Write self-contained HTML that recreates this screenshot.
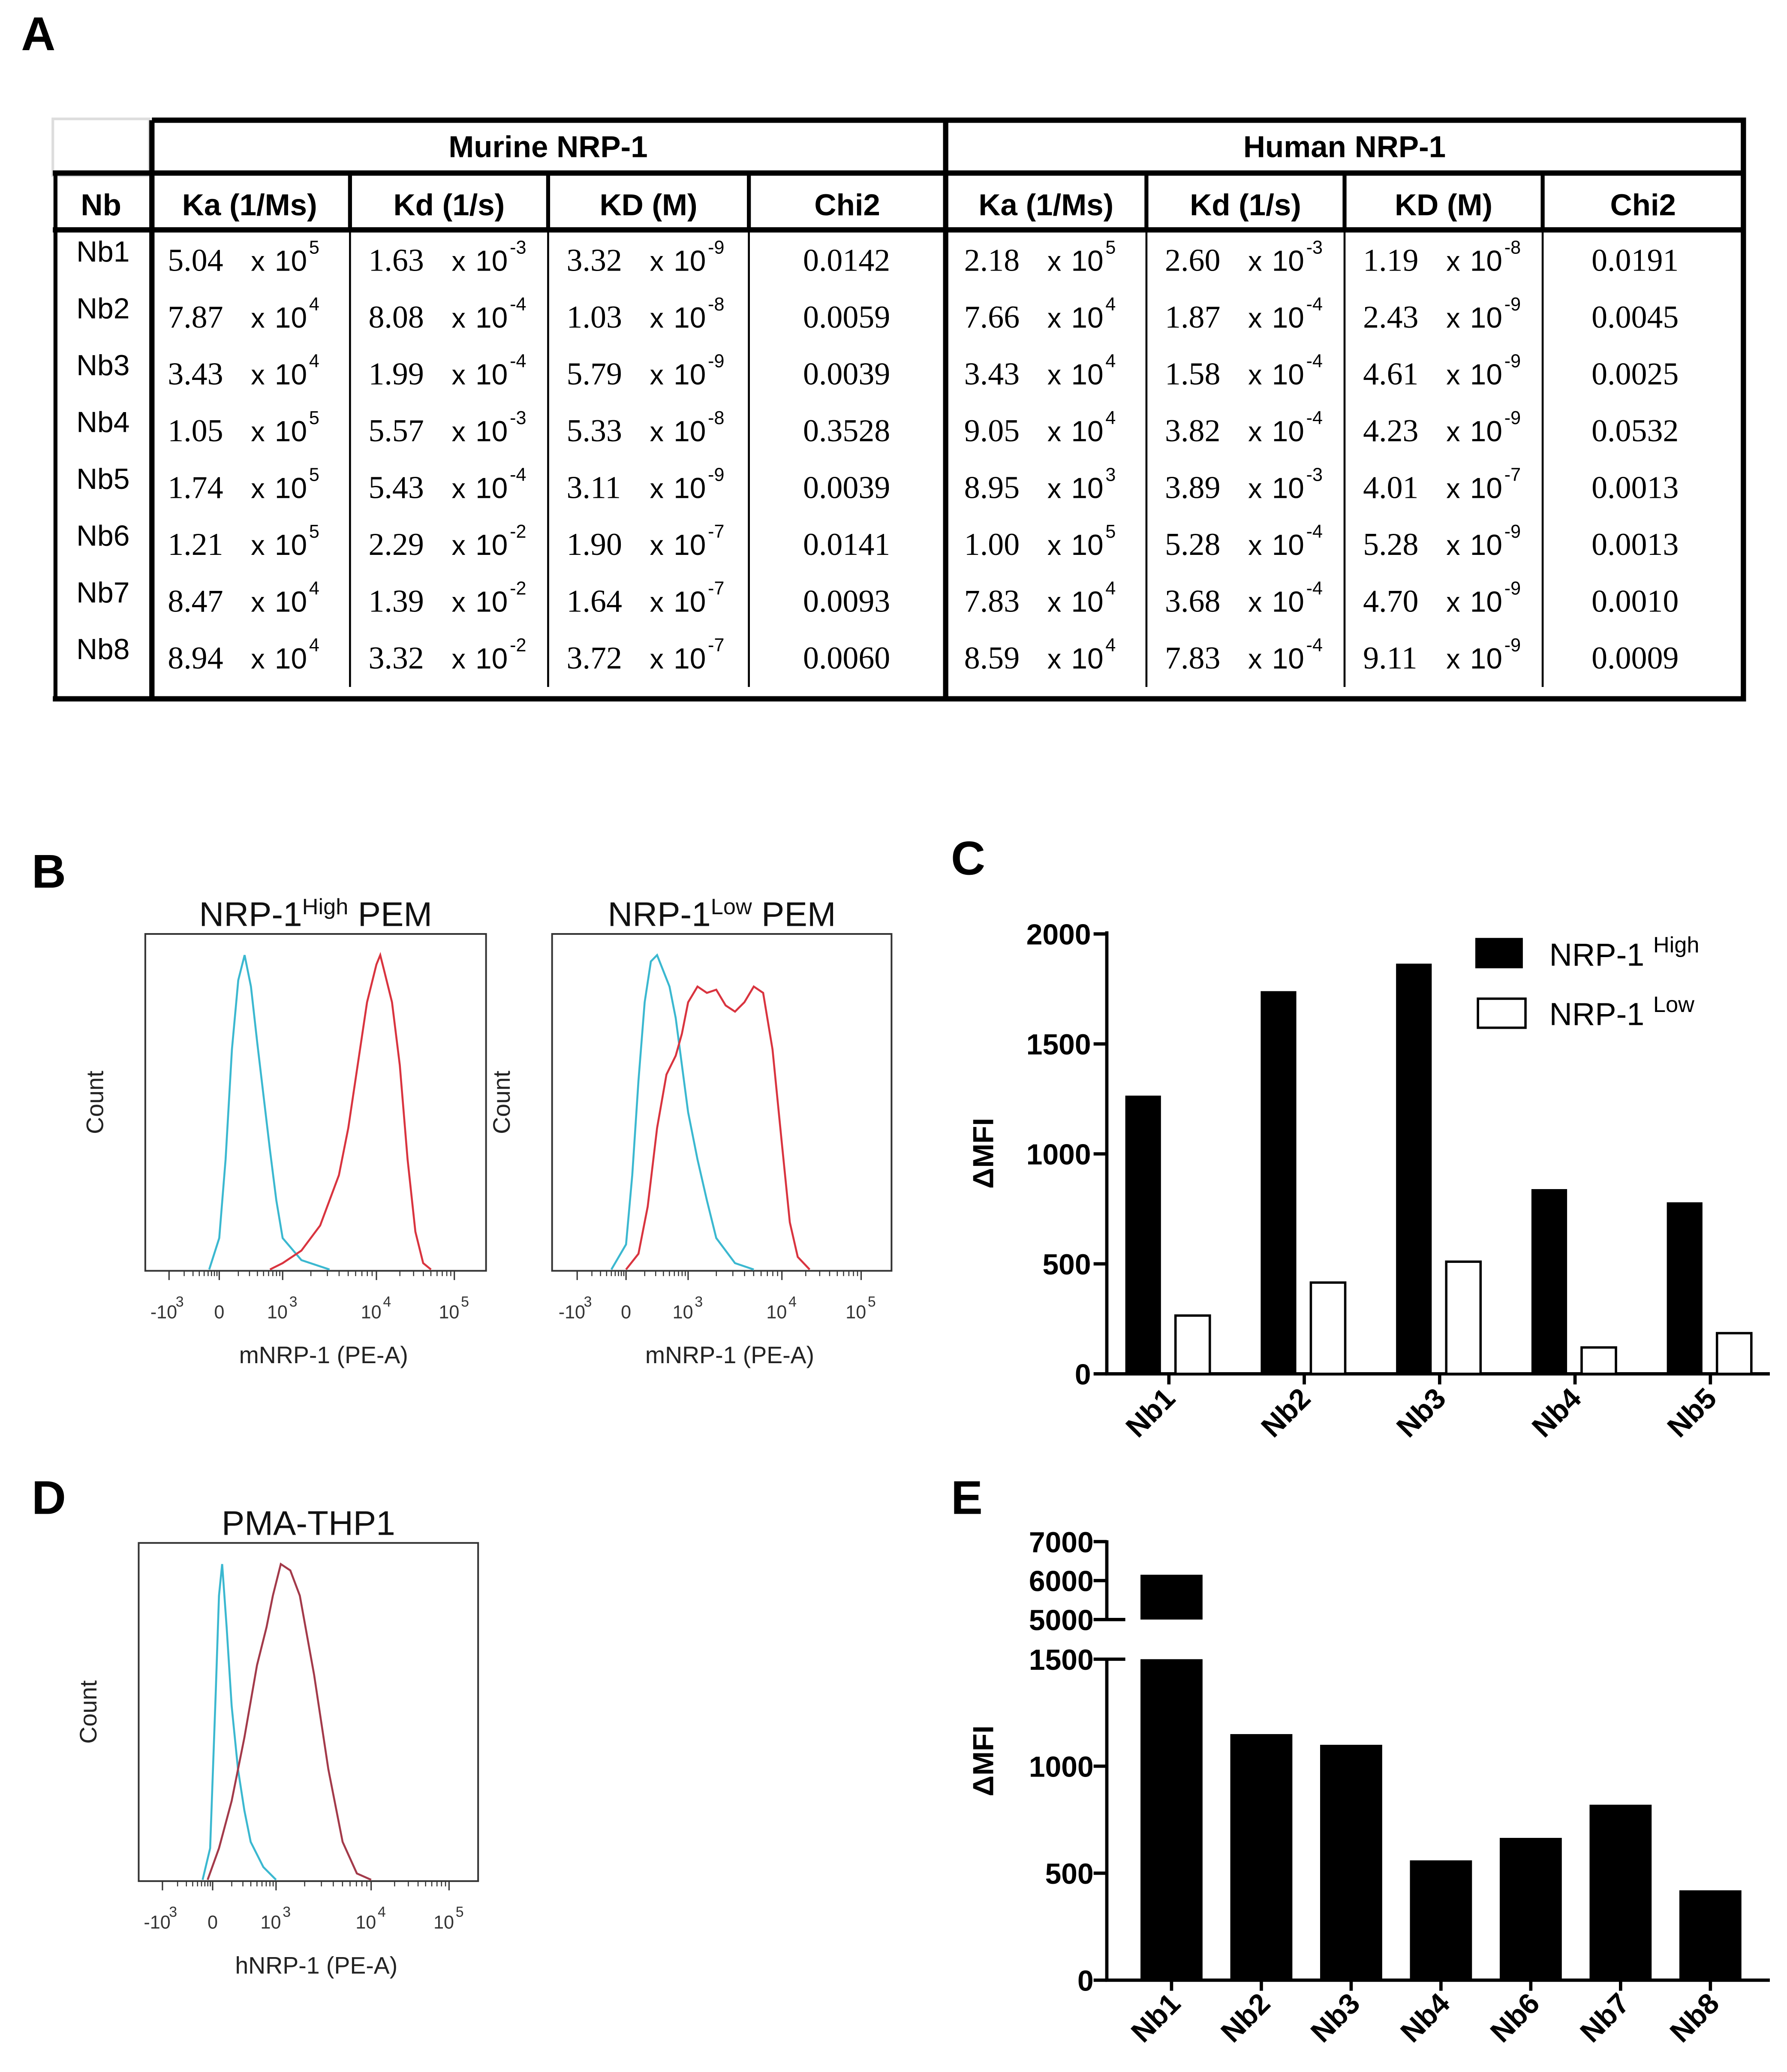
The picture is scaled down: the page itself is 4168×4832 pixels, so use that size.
<!DOCTYPE html>
<html><head><meta charset="utf-8">
<style>
html,body{margin:0;padding:0;background:#fff;}
svg{display:block;}
.sans{font-family:"Liberation Sans",sans-serif;}
.serif{font-family:"Liberation Serif",serif;}
</style></head>
<body>
<svg id="fig" xmlns="http://www.w3.org/2000/svg" width="4168" height="4832" viewBox="0 0 1353 1568.5" preserveAspectRatio="none">
<rect x="0" y="0" width="1360" height="1577" fill="#fff"/>
<g id="tbl"></g>
<g id="pb"></g>
<g id="pc"></g>
<g id="pd"></g>
<g id="pe"></g>
</svg>
<script>
// ---------- DATA ----------
const nbRows = ["Nb1","Nb2","Nb3","Nb4","Nb5","Nb6","Nb7","Nb8"];
const murKa = ["5.04|5","7.87|4","3.43|4","1.05|5","1.74|5","1.21|5","8.47|4","8.94|4"];
const murKd = ["1.63|-3","8.08|-4","1.99|-4","5.57|-3","5.43|-4","2.29|-2","1.39|-2","3.32|-2"];
const murKD = ["3.32|-9","1.03|-8","5.79|-9","5.33|-8","3.11|-9","1.90|-7","1.64|-7","3.72|-7"];
const murChi = ["0.0142","0.0059","0.0039","0.3528","0.0039","0.0141","0.0093","0.0060"];
const humKa = ["2.18|5","7.66|4","3.43|4","9.05|4","8.95|3","1.00|5","7.83|4","8.59|4"];
const humKd = ["2.60|-3","1.87|-4","1.58|-4","3.82|-4","3.89|-3","5.28|-4","3.68|-4","7.83|-4"];
const humKD = ["1.19|-8","2.43|-9","4.61|-9","4.23|-9","4.01|-7","5.28|-9","4.70|-9","9.11|-9"];
const humChi = ["0.0191","0.0045","0.0025","0.0532","0.0013","0.0013","0.0010","0.0009"];

const h1BlueT = [-0.2,0,0.1,0.2,0.3,0.4,0.5,0.6,0.7,0.8,0.9,1.0,1.2,1.5];
const h1BlueC = [0,10,35,70,92,100,90,72,55,38,22,10,3,0];
const h1RedT = [0.8,1.0,1.2,1.4,1.6,1.7,1.8,1.9,2.0,2.05,2.1,2.2,2.3,2.4,2.5,2.6,2.7];
const h1RedC = [0,2,6,14,30,45,65,85,97,100,95,85,65,35,12,2,0];
const h2BlueT = [-0.3,0,0.1,0.2,0.3,0.4,0.5,0.6,0.7,0.8,0.9,1.0,1.1,1.2,1.3,1.5,1.7];
const h2BlueC = [0,8,30,60,85,98,100,95,90,80,65,50,35,22,10,2,0];
const h2RedT = [0,0.2,0.35,0.5,0.65,0.8,0.9,1.0,1.1,1.2,1.3,1.4,1.5,1.6,1.7,1.8,1.9,2.0,2.1,2.2,2.35];
const h2RedC = [0,5,20,45,62,68,75,85,90,88,89,84,82,85,90,88,70,40,15,4,0];
const h3BlueT = [-0.2,-0.05,0.05,0.1,0.15,0.22,0.3,0.4,0.5,0.6,0.8,1.0];
const h3BlueC = [0,10,60,90,100,80,55,35,22,12,4,0];
const h3RedT = [-0.1,0.1,0.3,0.5,0.7,0.85,0.95,1.05,1.15,1.25,1.4,1.55,1.7,1.85,2.0];
const h3RedC = [0,10,25,45,68,80,90,100,98,90,65,35,12,2,0];

const cCats = ["Nb1","Nb2","Nb3","Nb4","Nb5"];
const cHigh = [1265,1740,1865,840,780];
const cLow = [265,415,510,120,185];
const cTicks = [0,500,1000,1500,2000];

const eCats = ["Nb1","Nb2","Nb3","Nb4","Nb6","Nb7","Nb8"];
const eVals = [6150,1150,1100,560,665,820,420];
const eTicksLow = [0,500,1000,1500];
const eTicksHigh = [5000,6000,7000];

// ---------- HELPERS ----------
const NS="http://www.w3.org/2000/svg";
function mk(parent,tag,attrs,text){const e=document.createElementNS(NS,tag);for(const k in attrs)e.setAttribute(k,attrs[k]);if(text!==undefined)e.textContent=text;parent.appendChild(e);return e;}

const fig=document.getElementById('fig');
[["A",16,38],["B",24,672],["C",720,662],["D",24,1146],["E",720,1146]].forEach(l=>{
  const t=mk(fig,'text',{x:l[1],y:l[2],'font-size':36,'font-weight':'bold',class:'sans'},l[0]);
  
  
});

// ---------- TABLE ----------
const tbl=document.getElementById('tbl');
const colX=[40,113,265,415,567,716,868,1018,1168,1320];
mk(tbl,'rect',{x:40,y:90,width:73,height:43,fill:'none',stroke:'#ddd','stroke-width':2});
function ln(g,x1,y1,x2,y2,w){mk(g,'line',{x1:x1,y1:y1,x2:x2,y2:y2,stroke:'#000','stroke-width':w});}
ln(tbl,115,91,1322,91,4);
ln(tbl,40,131,1322,131,4);
ln(tbl,40,174,1322,174,4);
ln(tbl,40,529,1322,529,4);
ln(tbl,42,131,42,529,3);
ln(tbl,115,91,115,529,4);
ln(tbl,716,91,716,529,4);
ln(tbl,1320,91,1320,529,4);
[265,415,567,868,1018,1168].forEach(x=>ln(tbl,x,131,x,174,3));
[265,415,567,868,1018,1168].forEach(x=>ln(tbl,x,174,x,520,1.5));
let t;
t=mk(tbl,'text',{x:415,y:119,'font-size':23,'font-weight':'bold','text-anchor':'middle',class:'sans'},'Murine NRP-1');


t=mk(tbl,'text',{x:1018,y:119,'font-size':23,'font-weight':'bold','text-anchor':'middle',class:'sans'},'Human NRP-1');


const heads=["Nb","Ka (1/Ms)","Kd (1/s)","KD (M)","Chi2","Ka (1/Ms)","Kd (1/s)","KD (M)","Chi2"];
heads.forEach((h,i)=>{
  const c=mk(tbl,'text',{x:(colX[i]+colX[i+1])/2,y:163,'font-size':23,'font-weight':'bold','text-anchor':'middle',class:'sans'},h);
  
  
});
const sciCols=[[murKa,113],[murKd,265],[murKD,415],[humKa,716],[humKd,868],[humKD,1018]];
nbRows.forEach((nb,i)=>{
  const y=205+43*i;
  const r=mk(tbl,'text',{x:78,y:y-7,'font-size':22,'text-anchor':'middle',class:'sans'},nb);
  
  
  sciCols.forEach(([arr,x0])=>{
    const [m,e]=arr[i].split('|');
    const a=mk(tbl,'text',{x:x0+14,y:y,'font-size':24,class:'serif'},m);
    
    
    mk(tbl,'text',{x:x0+77,y:y,'font-size':21,class:'sans'},'x');
    mk(tbl,'text',{x:x0+95,y:y,'font-size':22,class:'sans'},'10');
    mk(tbl,'text',{x:x0+121,y:y-13,'font-size':14,class:'sans'},e);
  });
  [[murChi,641],[humChi,1238]].forEach(([arr,cx])=>{
    const a=mk(tbl,'text',{x:cx,y:y,'font-size':24,'text-anchor':'middle',class:'serif'},arr[i]);
    
    
  });
});

// ---------- HISTOGRAMS ----------
function hist(g,box,tickPx,title,titleSup,titleRest,xlab,series){
  const [x0,y0,x1,y1]=box;
  const fr=mk(g,'rect',{x:x0,y:y0,width:x1-x0,height:y1-y0,fill:'none',stroke:'#333','stroke-width':1.3});
  
  
  const tx=t=>{const i=Math.max(0,Math.min(3,Math.floor(t+1)));const f=t+1-i;return tickPx[i]+f*(tickPx[i+1]-tickPx[i]);};
  const ty=c=>y1-1-c/100*(y1-y0-17);
  series.forEach(([T,C,col,name])=>{
    let d='';T.forEach((tv,k)=>{d+=(k?'L':'M')+tx(tv).toFixed(1)+','+ty(C[k]).toFixed(1);});
    const p=mk(g,'path',{d:d,fill:'none',stroke:col,'stroke-width':1.5});
    
    
  });
  for(let i=0;i<4;i++){for(let k=1;k<10;k++){const x=tickPx[i]+(tickPx[i+1]-tickPx[i])*Math.log10(k+1);mk(g,'line',{x1:x,y1:y1,x2:x,y2:y1+4,stroke:'#333','stroke-width':0.8});}}
  tickPx.forEach(x=>mk(g,'line',{x1:x,y1:y1,x2:x,y2:y1+7,stroke:'#333','stroke-width':1}));
  const labs=[["-10","3"],["0",""],["10","3"],["10","4"],["10","5"]];
  labs.forEach((l,i)=>{
    const a=mk(g,'text',{x:tickPx[i]-(l[1]?4:0),y:y1+36,'font-size':14,fill:'#333','text-anchor':'middle',class:'sans'},l[0]);
    
    
    if(l[1])mk(g,'text',{x:tickPx[i]+5,y:y1+27,'font-size':11,fill:'#333',class:'sans'},l[1]);
  });
  const xl=mk(g,'text',{x:(x0+x1)/2+6,y:y1+70,'font-size':18,fill:'#222','text-anchor':'middle',class:'sans'},xlab);
  
  
  const cx=x0-32,cy=(y0+y1)/2;
  const yl=mk(g,'text',{x:cx,y:cy,'font-size':18,fill:'#222','text-anchor':'middle',transform:`rotate(-90 ${cx} ${cy})`,class:'sans'},'Count');
  
  
  const tt=mk(g,'text',{x:(x0+x1)/2,y:y0-6,'font-size':26,fill:'#111','text-anchor':'middle',class:'sans'});
  
  
  mk(tt,'tspan',{},title);
  if(titleSup){mk(tt,'tspan',{'font-size':17,dy:-9},titleSup);mk(tt,'tspan',{dy:9},titleRest);}
}
const pb=document.getElementById('pb');
hist(pb,[110,707,368,962],[128,166,214,285,344],'NRP-1','High',' PEM','mNRP-1 (PE-A)',
  [[h1BlueT,h1BlueC,'#3bb8d0','hist-isotype'],[h1RedT,h1RedC,'#d9343f','hist-nrp1-stain']]);
hist(pb,[418,707,675,962],[437,474,521,592,652],'NRP-1','Low',' PEM','mNRP-1 (PE-A)',
  [[h2BlueT,h2BlueC,'#3bb8d0','hist-isotype'],[h2RedT,h2RedC,'#d9343f','hist-nrp1-stain']]);
const pd=document.getElementById('pd');
hist(pd,[105,1168,362,1424],[123,161,209,281,340],'PMA-THP1','','','hNRP-1 (PE-A)',
  [[h3BlueT,h3BlueC,'#3bb8d0','hist-isotype'],[h3RedT,h3RedC,'#a33a4a','hist-nrp1-stain']]);

// ---------- PANEL C ----------
const pc=document.getElementById('pc');
const cY=v=>1040-v/2000*333;
const cGroupX=i=>885+i*102.5;
mk(pc,'line',{x1:838,y1:705,x2:838,y2:1041,stroke:'#000','stroke-width':2.5});
mk(pc,'line',{x1:837,y1:1040,x2:1340,y2:1040,stroke:'#000','stroke-width':2.5});
cTicks.forEach(v=>{
  mk(pc,'line',{x1:828,y1:cY(v),x2:838,y2:cY(v),stroke:'#000','stroke-width':2.5});
  const a=mk(pc,'text',{x:826,y:cY(v)+8,'font-size':22,'font-weight':'bold','text-anchor':'end',class:'sans'},String(v));
  
  
});
cCats.forEach((c,i)=>{
  const gx=cGroupX(i);
  const b=mk(pc,'rect',{x:gx-33,y:cY(cHigh[i]),width:27,height:1040-cY(cHigh[i]),fill:'#000'});
  
  
  const w=mk(pc,'rect',{x:gx+5,y:cY(cLow[i]),width:26,height:1040-cY(cLow[i]),fill:'#fff',stroke:'#000','stroke-width':1.8});
  
  
  mk(pc,'line',{x1:gx,y1:1040,x2:gx,y2:1048,stroke:'#000','stroke-width':2.5});
  const l=mk(pc,'text',{x:gx+6,y:1060,'font-size':22,'font-weight':'bold','text-anchor':'end',transform:`rotate(-45 ${gx+6} 1060)`,class:'sans'},c);
  
  
});
t=mk(pc,'text',{x:752,y:873,'font-size':22,'font-weight':'bold','text-anchor':'middle',transform:'rotate(-90 752 873)',class:'sans'},'ΔMFI');


const lg=mk(pc,'g',{});


mk(lg,'rect',{x:1117,y:710,width:36,height:23,fill:'#000'});
let lt=mk(lg,'text',{x:1173,y:731,'font-size':24,class:'sans'});
mk(lt,'tspan',{},'NRP-1 ');mk(lt,'tspan',{'font-size':17,dy:-10},'High');
mk(lg,'rect',{x:1119,y:756,width:36,height:22,fill:'#fff',stroke:'#000','stroke-width':1.8});
lt=mk(lg,'text',{x:1173,y:776,'font-size':24,class:'sans'});
mk(lt,'tspan',{},'NRP-1 ');mk(lt,'tspan',{'font-size':17,dy:-10},'Low');

// ---------- PANEL E ----------
const pe=document.getElementById('pe');
const eYl=v=>1499-v/1500*243;
const eYh=v=>1226-(v-5000)/2000*59;
const eX=i=>887+i*68;
mk(pe,'line',{x1:838,y1:1166,x2:838,y2:1226,stroke:'#000','stroke-width':2.5});
mk(pe,'line',{x1:838,y1:1256,x2:838,y2:1500,stroke:'#000','stroke-width':2.5});
mk(pe,'line',{x1:838,y1:1226,x2:852,y2:1226,stroke:'#000','stroke-width':2.5});
mk(pe,'line',{x1:838,y1:1256,x2:852,y2:1256,stroke:'#000','stroke-width':2.5});
mk(pe,'line',{x1:837,y1:1499,x2:1340,y2:1499,stroke:'#000','stroke-width':2.5});
eTicksLow.forEach(v=>{
  mk(pe,'line',{x1:828,y1:eYl(v),x2:838,y2:eYl(v),stroke:'#000','stroke-width':2.5});
  const a=mk(pe,'text',{x:828,y:eYl(v)+8,'font-size':22,'font-weight':'bold','text-anchor':'end',class:'sans'},String(v));
  
  
});
eTicksHigh.forEach(v=>{
  mk(pe,'line',{x1:828,y1:eYh(v),x2:838,y2:eYh(v),stroke:'#000','stroke-width':2.5});
  const a=mk(pe,'text',{x:828,y:eYh(v)+8,'font-size':22,'font-weight':'bold','text-anchor':'end',class:'sans'},String(v));
  
  
});
eCats.forEach((c,i)=>{
  const v=eVals[i],x=eX(i)-23.5;
  if(v>1500){
    const b1=mk(pe,'rect',{x:x,y:1256,width:47,height:243,fill:'#000'});
    
    
    const top=eYh(Math.min(v,7000));
    const b2=mk(pe,'rect',{x:x,y:top,width:47,height:1226-top,fill:'#000'});
    
    
  } else {
    const b=mk(pe,'rect',{x:x,y:eYl(v),width:47,height:1499-eYl(v),fill:'#000'});
    
    
  }
  mk(pe,'line',{x1:eX(i),y1:1499,x2:eX(i),y2:1507,stroke:'#000','stroke-width':2.5});
  const l=mk(pe,'text',{x:eX(i)+8,y:1518,'font-size':22,'font-weight':'bold','text-anchor':'end',transform:`rotate(-45 ${eX(i)+8} 1518)`,class:'sans'},c);
  
  
});
t=mk(pe,'text',{x:752,y:1333,'font-size':22,'font-weight':'bold','text-anchor':'middle',transform:'rotate(-90 752 1333)',class:'sans'},'ΔMFI');


</script>
</body></html>
